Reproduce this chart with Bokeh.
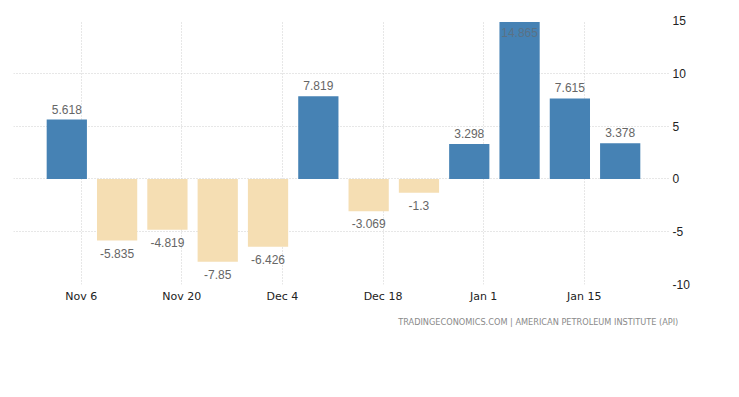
import datetime as dt
from bokeh.plotting import figure
from bokeh.models import (ColumnDataSource, Range1d, FixedTicker, DatetimeTickFormatter,
                          Title)
from bokeh.embed import file_html
from bokeh.resources import INLINE
from bokeh.core.properties import value

# ---- data ----
dates = ["2022-11-04", "2022-11-11", "2022-11-18", "2022-11-25", "2022-12-02", "2022-12-09",
         "2022-12-16", "2022-12-23", "2022-12-30", "2023-01-06", "2023-01-13", "2023-01-20"]
values = [5.618, -5.835, -4.819, -7.85, -6.426, 7.819, -3.069, -1.3, 3.298, 14.865, 7.615, 3.378]
tick_dates = ["2022-11-06", "2022-11-20", "2022-12-04", "2022-12-18", "2023-01-01", "2023-01-15"]
y_ticks = [-10, -5, 0, 5, 10, 15]
y_tick_labels = ["-10", "-5", "0", "5", "10", "15"]
footer = "TRADINGECONOMICS.COM  |  AMERICAN PETROLEUM INSTITUTE (API)"

POS = "#4682B4"
NEG = "#F5DEB3"
YMIN, YMAX = -10, 15

def to_dt(s):
    return dt.datetime.strptime(s, "%Y-%m-%d")

def to_ms(d):
    return (d - dt.datetime(1970, 1, 1)).total_seconds() * 1000.0

xs = [to_dt(d) for d in dates]
DAY = 86400000.0

p = figure(x_axis_type="datetime", y_axis_location="right",
           frame_width=657, frame_height=264,
           min_border_left=13, min_border_top=20, min_border_right=58, min_border_bottom=50,
           output_backend="svg", toolbar_location=None,
           x_range=Range1d(to_ms(dt.datetime(2022, 10, 27, 14)), to_ms(dt.datetime(2023, 1, 27))),
           y_range=Range1d(YMIN, YMAX))
p.outline_line_color = None
p.background_fill_color = "white"
p.border_fill_color = "white"

src = ColumnDataSource(dict(
    x=xs, top=values,
    color=[POS if v >= 0 else NEG for v in values],
))
p.vbar(x="x", top="top", bottom=0, width=5.6 * DAY, fill_color="color",
       line_color=None, source=src)

# value labels
above = dict(x=[], y=[], t=[])
below = dict(x=[], y=[], t=[])
inside = dict(x=[], y=[], t=[])
for x, v in zip(xs, values):
    t = f"{v:g}"
    if v >= 0:
        if v > YMAX - 1.5:
            inside["x"].append(x); inside["y"].append(min(v, YMAX)); inside["t"].append(t)
        else:
            above["x"].append(x); above["y"].append(v); above["t"].append(t)
    else:
        below["x"].append(x); below["y"].append(v); below["t"].append(t)

lab_kw = dict(text_font=value("Liberation Sans"), text_font_size="12px",
              text_color="#666666", text_align="center")
p.text(x="x", y="y", text="t", source=ColumnDataSource(above),
       text_baseline="bottom", y_offset=-6, **lab_kw)
p.text(x="x", y="y", text="t", source=ColumnDataSource(below),
       text_baseline="top", y_offset=8, **lab_kw)
p.text(x="x", y="y", text="t", source=ColumnDataSource(inside),
       text_baseline="top", y_offset=6, text_alpha=0.6, **lab_kw)

# axes
xa = p.xaxis[0]
xa.ticker = FixedTicker(ticks=[to_ms(to_dt(d)) for d in tick_dates])
fmt = "%b %-d"
xa.formatter = DatetimeTickFormatter(days=fmt, months=fmt, years=fmt, hours=fmt,
                                     minutes=fmt, seconds=fmt, milliseconds=fmt,
                                     microseconds=fmt, hourmin=fmt, minsec=fmt)
xa.axis_line_color = None
xa.major_tick_line_color = None
xa.minor_tick_line_color = None
xa.major_tick_out = 0
xa.major_tick_in = 0
xa.major_label_standoff = 5
xa.major_label_text_font = "DejaVu Sans"
xa.major_label_text_font_size = "11px"
xa.major_label_text_color = "#222222"

ya = p.yaxis[0]
ya.ticker = FixedTicker(ticks=y_ticks)
ya.major_label_overrides = {t: l for t, l in zip(y_ticks, y_tick_labels)}
ya.axis_line_color = None
ya.major_tick_line_color = None
ya.minor_tick_line_color = None
ya.major_tick_out = 0
ya.major_tick_in = 0
ya.major_label_standoff = 2
ya.major_label_text_font = "Liberation Sans"
ya.major_label_text_font_size = "12px"
ya.major_label_text_color = "#222222"

for g in (p.xgrid[0], p.ygrid[0]):
    g.grid_line_color = "#cfcfcf"
    g.grid_line_dash = "1 2"
    g.grid_line_width = 1

p.add_layout(Title(text=footer, align="right", offset=-13, standoff=19,
                   vertical_align="bottom",
                   text_font="DejaVu Sans", text_font_size="8.2px",
                   text_font_style="normal", text_color="#8a8a8a"), "below")

open("out.html", "w").write(file_html(p, INLINE))
